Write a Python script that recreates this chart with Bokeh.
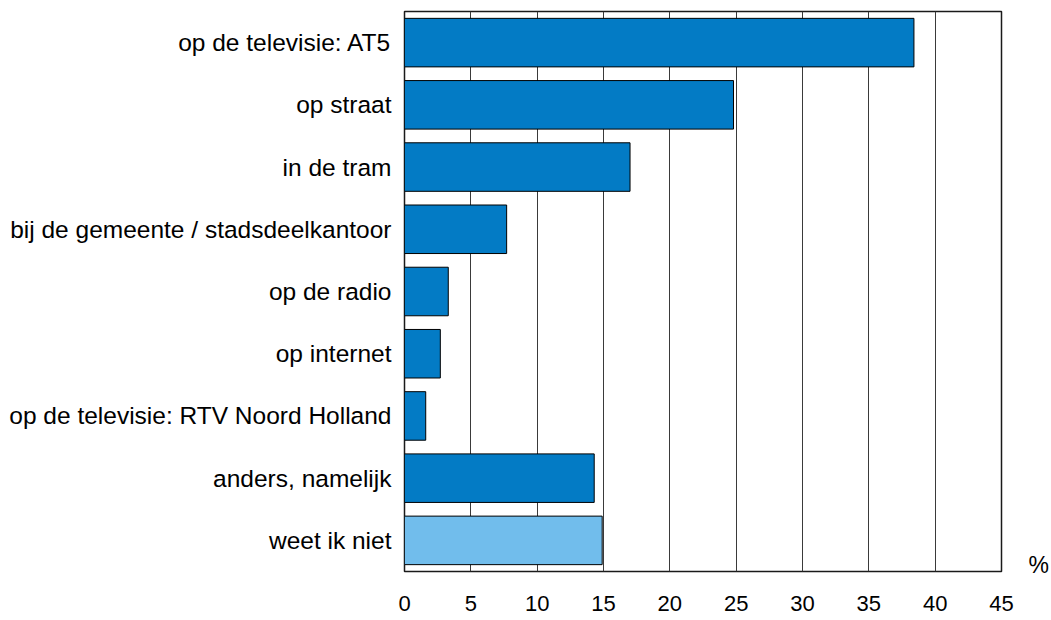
from bokeh.plotting import figure
from bokeh.models import FixedTicker, ColumnDataSource, Range1d, LinearAxis
from bokeh.embed import file_html
from bokeh.resources import INLINE

categories = [
    "op de televisie: AT5",
    "op straat",
    "in de tram",
    "bij de gemeente / stadsdeelkantoor",
    "op de radio",
    "op internet",
    "op de televisie: RTV Noord Holland",
    "anders, namelijk",
    "weet ik niet",
]
values = [38.4, 24.8, 17.0, 7.7, 3.3, 2.7, 1.6, 14.3, 14.9]
colors = ["#037BC5"] * 8 + ["#71BDEC"]
x_ticks = [0, 5, 10, 15, 20, 25, 30, 35, 40, 45]
unit_label = "%"

FONT = "Liberation Sans"

n = len(categories)
# one band per category, first category at the top
ypos = [n - i - 0.5 for i in range(n)]

src = ColumnDataSource(dict(y=ypos, cat=categories, val=values, color=colors))

p = figure(
    y_range=Range1d(0, n),
    x_range=Range1d(0, 45),
    width=1051, height=620,
    output_backend="svg", toolbar_location=None,
    min_border_left=404, min_border_right=50,
    min_border_top=11, min_border_bottom=49,
)

p.hbar(y="y", left=0, right="val", height=0.78, fill_color="color",
       line_color="black", line_width=1, source=src)

# axes
p.xaxis.ticker = FixedTicker(ticks=x_ticks)
p.xaxis.axis_line_color = None
p.xaxis.major_tick_line_color = None
p.xaxis.minor_tick_line_color = None
p.xaxis.major_tick_out = 0
p.xaxis.major_tick_in = 0
p.xaxis.major_label_standoff = 24
p.xaxis.major_label_text_font = FONT
p.xaxis.major_label_text_font_size = "22px"
p.xaxis.major_label_text_color = "black"

p.yaxis.ticker = FixedTicker(ticks=ypos)
p.yaxis.major_label_overrides = dict(zip(ypos, categories))
p.yaxis.axis_line_color = None
p.yaxis.major_tick_line_color = None
p.yaxis.minor_tick_line_color = None
p.yaxis.major_tick_out = 0
p.yaxis.major_tick_in = 0
p.yaxis.major_label_standoff = 13
p.yaxis.major_label_text_font = FONT
p.yaxis.major_label_text_font_size = "24.5px"
p.yaxis.major_label_text_color = "black"

# "%" unit label on the right, via an extra axis near the bottom of the frame
unit_pos = 0.1
unit_axis = LinearAxis(ticker=FixedTicker(ticks=[unit_pos]),
                       major_label_overrides={unit_pos: unit_label})
unit_axis.axis_line_color = None
unit_axis.major_tick_line_color = None
unit_axis.minor_tick_line_color = None
unit_axis.major_tick_out = 0
unit_axis.major_tick_in = 0
unit_axis.major_label_standoff = 27
unit_axis.major_label_text_font = FONT
unit_axis.major_label_text_font_size = "23px"
unit_axis.major_label_text_color = "black"
p.add_layout(unit_axis, "right")

# grid
p.ygrid.grid_line_color = None
p.xgrid.ticker = FixedTicker(ticks=x_ticks)
p.xgrid.grid_line_color = "#3a3a3a"
p.xgrid.grid_line_width = 1

p.outline_line_color = "#1a1a1a"
p.outline_line_width = 1.5
p.background_fill_color = "white"
p.border_fill_color = "white"

open("out.html", "w").write(file_html(p, INLINE))
